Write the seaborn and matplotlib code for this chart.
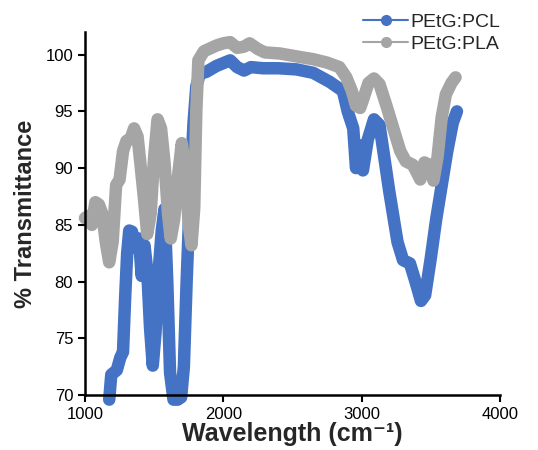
import numpy as np
import pandas as pd
import seaborn as sns
import matplotlib
matplotlib.use("Agg")
import matplotlib.pyplot as plt
from matplotlib.lines import Line2D

# FTIR spectra (wavenumber, % transmittance)
pcl_wn = [1175, 1190, 1230, 1255, 1275, 1290, 1305, 1320, 1340, 1365, 1390, 1410,
          1430, 1450, 1470, 1490, 1510, 1530, 1555, 1575, 1595, 1615, 1640, 1670,
          1695, 1715, 1735, 1760, 1785, 1805, 1830, 1880, 1950, 2050, 2100, 2150,
          2200, 2290, 2400, 2530, 2650, 2770, 2865, 2900, 2940, 2960, 2985, 3010,
          3045, 3090, 3130, 3200, 3260, 3300, 3350, 3390, 3430, 3460, 3500, 3540,
          3580, 3620, 3660, 3690]
pcl_t = [69.6, 71.8, 72.2, 73.3, 73.8, 78.5, 82.5, 84.5, 84.4, 83.0, 83.8, 80.5,
         83.2, 81.0, 76.0, 72.6, 75.5, 80.5, 84.5, 86.4, 80.0, 72.0, 69.6, 69.6,
         69.8, 72.5, 80.0, 88.0, 94.0, 97.2, 98.3, 98.5, 99.0, 99.5, 98.9, 98.6,
         98.9, 98.8, 98.8, 98.7, 98.4, 97.6, 96.8, 95.0, 93.5, 90.0, 92.0, 89.8,
         92.5, 94.3, 93.8, 88.0, 83.5, 81.9, 81.6, 80.0, 78.3, 78.8, 82.0, 85.5,
         88.5, 91.5, 94.0, 95.0]

pla_wn = [1000, 1025, 1050, 1075, 1100, 1125, 1150, 1175, 1200, 1225, 1250, 1275,
          1300, 1330, 1355, 1380, 1400, 1425, 1450, 1475, 1500, 1525, 1550, 1575,
          1600, 1620, 1645, 1670, 1700, 1725, 1750, 1770, 1790, 1805, 1820, 1860,
          1950, 2000, 2050, 2100, 2150, 2190, 2250, 2300, 2410, 2550, 2650, 2750,
          2840, 2890, 2930, 2960, 2990, 3010, 3050, 3090, 3130, 3180, 3230, 3280,
          3320, 3370, 3400, 3425, 3455, 3490, 3520, 3550, 3580, 3610, 3650, 3680]
pla_t = [85.6, 85.8, 85.0, 87.0, 86.8, 86.0, 83.5, 81.7, 83.5, 88.5, 89.0, 91.5,
         92.4, 92.6, 93.5, 92.8, 90.5, 87.5, 84.2, 86.0, 91.0, 94.3, 93.5, 90.5,
         86.0, 83.8, 85.5, 89.0, 92.2, 90.0, 85.0, 83.2, 86.5, 95.0, 99.5, 100.3,
         100.8, 101.0, 101.1, 100.6, 100.7, 101.0, 100.5, 100.2, 100.1, 99.8, 99.6, 99.3,
         98.9, 98.0, 96.8, 95.5, 95.3, 96.0, 97.5, 97.9, 97.4, 95.5, 93.5, 91.5,
         90.6, 90.3, 89.6, 89.0, 90.5, 90.3, 88.9, 91.0, 94.5, 96.5, 97.5, 98.0]

labels = ["PEtG:PCL", "PEtG:PLA"]
colors = ["#4472C4", "#A5A5A5"]

df = pd.concat([
    pd.DataFrame({"wn": pcl_wn, "T": pcl_t, "sample": labels[0]}),
    pd.DataFrame({"wn": pla_wn, "T": pla_t, "sample": labels[1]}),
])

sns.set_style("ticks")
plt.rcParams["font.family"] = ["Liberation Sans", "DejaVu Sans"]

fig = plt.figure(figsize=(5.38, 4.5), dpi=100)
ax = fig.add_axes([0.158, 0.122, 0.771, 0.807])

sns.lineplot(data=df, x="wn", y="T", hue="sample", palette=colors, hue_order=labels,
             sort=False, estimator=None, lw=9, ax=ax, legend=False,
             solid_joinstyle="round", solid_capstyle="round", clip_on=False)

ax.set_xlim(1000, 4000)
ax.set_ylim(70, 102)
ax.set_xticks([1000, 2000, 3000, 4000])
ax.set_yticks([70, 75, 80, 85, 90, 95, 100])
ax.tick_params(labelsize=12, width=1.5, length=5, color="black", labelcolor="black")
for s in ["top", "right"]:
    ax.spines[s].set_visible(False)
for s in ["left", "bottom"]:
    ax.spines[s].set_linewidth(1.8)
    ax.spines[s].set_color("black")
    ax.spines[s].set_zorder(5)

ax.set_xlabel("Wavelength (cm\u207b\u00b9)", fontsize=18, fontweight="bold", labelpad=0)
ax.set_ylabel("% Transmittance", fontsize=17, fontweight="bold", labelpad=6)

handles = [Line2D([], [], color=c, lw=1.5, marker="o", ms=7) for c in colors]
fig.legend(handles, labels, loc="upper left", bbox_to_anchor=(0.675, 0.97),
           frameon=False, fontsize=14, handlelength=2.3, handletextpad=0.15,
           labelspacing=0.2, borderpad=0, borderaxespad=0)

fig.savefig("out.png", dpi=100)
